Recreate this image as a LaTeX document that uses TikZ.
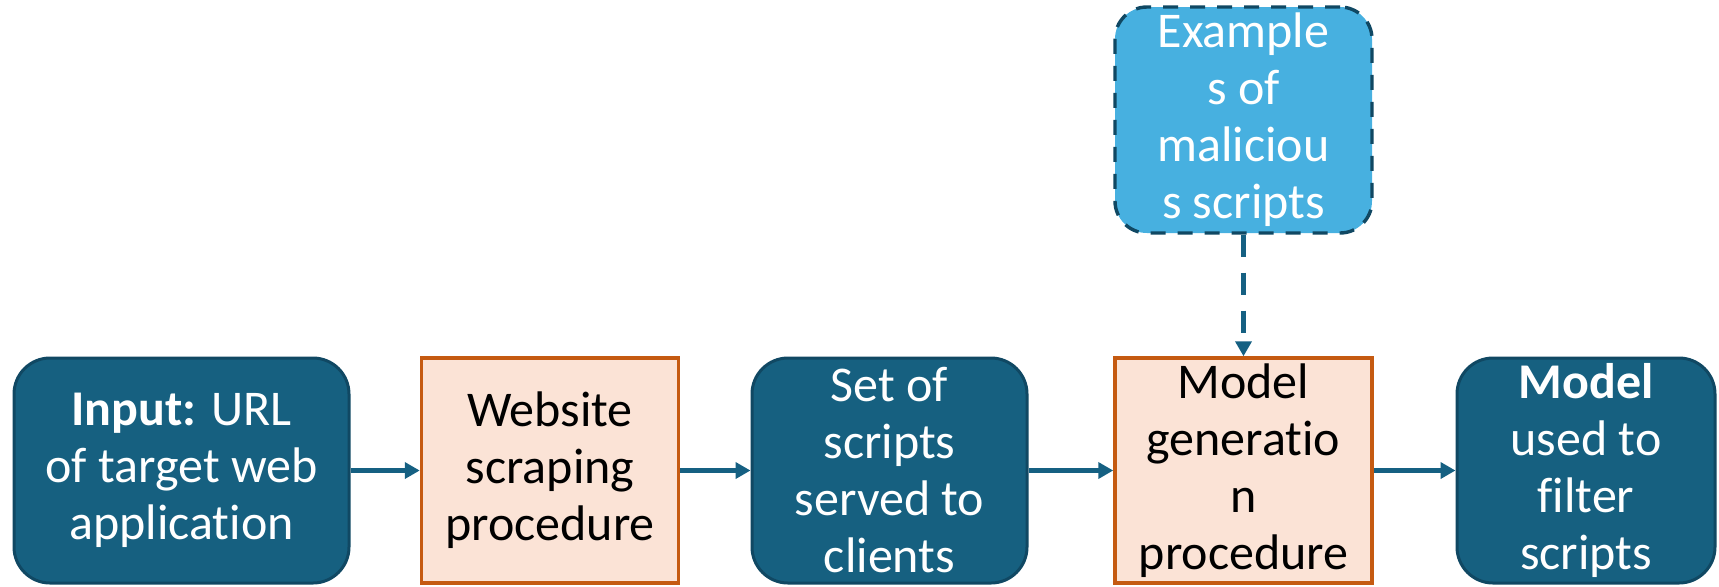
\documentclass[tikz,border=0pt]{standalone}
\usepackage{fontspec}
\setmainfont[Ligatures={NoCommon,NoRequired,NoContextual}]{Carlito}
\definecolor{flowDark}{RGB}{22,96,128}
\definecolor{flowDarkLine}{RGB}{16,72,99}
\definecolor{flowPeach}{RGB}{251,227,214}
\definecolor{flowOrange}{RGB}{197,90,17}
\definecolor{flowSky}{RGB}{71,176,224}
\definecolor{flowArrow}{RGB}{21,96,130}
\usetikzlibrary{arrows.meta}

\begin{document}
\begin{tikzpicture}[
    x=0.5pt, y=-0.5pt,
    box/.style={rectangle, minimum height=112.5pt, align=center, inner sep=2pt,
                font=\fontsize{25pt}{28.5pt}\selectfont},
    data/.style={box, rounded corners=18pt, draw=flowDarkLine, fill=flowDark,
                 line width=1.5pt, text=white},
    proc/.style={box, draw=flowOrange, fill=flowPeach, line width=1.75pt,
                 text=black, minimum width=128.5pt},
    extra/.style={box, rounded corners=16pt, draw=flowDarkLine, fill=flowSky,
                  line width=1.7pt, dash pattern=on 7.5pt off 6pt, text=white,
                  minimum width=128.5pt, minimum height=113pt},
    flow/.style={draw=flowArrow, line width=2.4pt,
                 -{Triangle[length=7.5pt,width=8pt]}}
  ]
  \useasboundingbox (0,0) rectangle (1719,586);

  % main row
  \node[data, minimum width=167.5pt] (input) at (181.5,470.5)
    {\textbf{Input:} URL\\of target web\\application};
  \node[proc] (scrape) at (550,470.5)
    {Website\\scraping\\procedure};
  \node[data, minimum width=137.5pt] (scripts) at (889.5,470.5)
    {Set of\\scripts\\served to\\clients};
  \node[proc] (gen) at (1243.5,470.5)
    {Model\\generatio\\n\\procedure};
  \node[data, minimum width=129pt] (model) at (1586,470.5)
    {\textbf{Model}\\used to\\filter\\scripts};

  % side input
  \node[extra] (examples) at (1243.5,120)
    {Example\\s of\\maliciou\\s scripts};

  \draw[flow] (input) -- (scrape);
  \draw[flow] (scrape) -- (scripts);
  \draw[flow] (scripts) -- (gen);
  \draw[flow] (gen) -- (model);
  \draw[flow, dash pattern=on 11pt off 8pt] (examples) -- (gen);
\end{tikzpicture}
\end{document}
